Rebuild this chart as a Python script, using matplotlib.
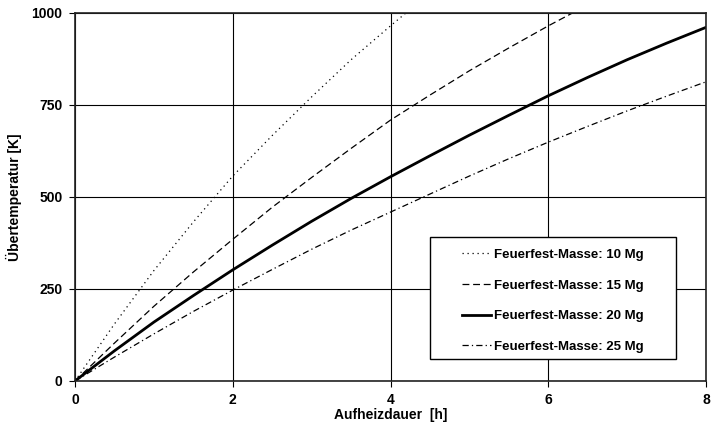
import matplotlib
matplotlib.use("Agg")
import matplotlib.pyplot as plt
from matplotlib.patches import Rectangle

plt.rcParams['font.family'] = ['Liberation Sans', 'DejaVu Sans']
plt.rcParams['font.weight'] = 'bold'

# Aufheizdauer [h]
zeit = [0, 0.5, 1, 1.5, 2, 2.5, 3, 3.5, 4, 4.5, 5, 5.5, 6, 6.5, 7, 7.5, 8]

# Übertemperatur [K] je Feuerfest-Masse
t_10 = [0, 155, 300, 432, 557, 667, 772, 873, 965, 1055, 1140, 1220, 1300, 1375, 1450, 1520, 1590]
t_15 = [0, 103, 203, 296, 385, 472, 553, 632, 709, 777, 843, 905, 965, 1022, 1078, 1132, 1185]
t_20 = [0, 82, 160, 232, 302, 369, 434, 496, 555, 612, 668, 722, 775, 825, 873, 918, 961]
t_25 = [0, 65, 128, 189, 247, 303, 358, 410, 459, 508, 557, 604, 649, 692, 734, 774, 813]

labels = ["Feuerfest-Masse: 10 Mg", "Feuerfest-Masse: 15 Mg",
          "Feuerfest-Masse: 20 Mg", "Feuerfest-Masse: 25 Mg"]

fig = plt.figure(figsize=(7.11, 4.28), dpi=100)
ax = fig.add_axes([75 / 711, 1 - 381 / 428, 631 / 711, 368 / 428])

ax.plot(zeit, t_10, color='black', lw=0.9, linestyle=(0, (1, 3)), label=labels[0])
ax.plot(zeit, t_15, color='black', lw=0.9, linestyle=(0, (5.5, 3)), label=labels[1])
ax.plot(zeit, t_20, color='black', lw=2.0, linestyle='-', label=labels[2])
ax.plot(zeit, t_25, color='black', lw=0.9, linestyle=(0, (5, 2.5, 1, 2.5)), label=labels[3])

ax.set_xlim(0, 8)
ax.set_ylim(0, 1000)
ax.set_xticks([0, 2, 4, 6, 8])
ax.set_yticks([0, 250, 500, 750, 1000])
ax.grid(True, color='black', lw=0.8)
ax.set_axisbelow(True)
for s in ax.spines.values():
    s.set_color('#222222')
    s.set_linewidth(1.2)
ax.tick_params(direction='out', length=4, width=0.8, labelsize=10, pad=5)
for t in ax.get_xticklabels() + ax.get_yticklabels():
    t.set_fontweight('bold')

ax.set_xlabel("Aufheizdauer  [h]", fontsize=10, fontweight='bold', labelpad=0)
ax.set_ylabel("Übertemperatur [K]", fontsize=10, fontweight='bold', labelpad=7)

# Legendenrahmen
rx, ry, rw, rh = 0.5626, 0.0598, 0.39, 0.332
ax.add_patch(Rectangle((rx, ry), rw, rh, transform=ax.transAxes,
                       facecolor='white', edgecolor='black', lw=1, zorder=3))
leg = ax.legend(loc='center', bbox_to_anchor=(rx + rw / 2, ry + rh / 2 - 0.008),
                frameon=False, fontsize=9.5, handlelength=2.2, handletextpad=0.2,
                labelspacing=1.4, borderpad=0)
leg.set_zorder(4)
for t in leg.get_texts():
    t.set_fontweight('bold')

fig.savefig("out.png", dpi=100)
